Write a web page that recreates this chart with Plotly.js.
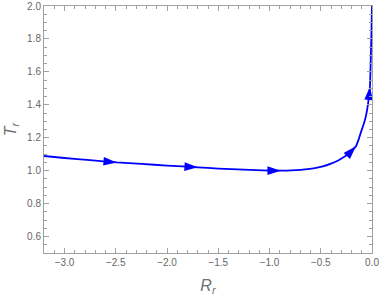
<!DOCTYPE html>
<html>
<head>
<meta charset="utf-8">
<script src="https://cdn.plot.ly/plotly-3.0.1.min.js"></script>
<style>
  html, body { margin: 0; padding: 0; background: #fff; }
  #plot { width: 382px; height: 297px; }
</style>
</head>
<body>
<div id="plot"></div>
<script>
// curve
var rr = [-3.2, -3.0, -2.75, -2.49, -2.25, -2.0, -1.70, -1.5, -1.25, -1.0, -0.89, -0.7, -0.57, -0.48, -0.4, -0.33, -0.27, -0.22, -0.19, -0.157, -0.13, -0.11, -0.08, -0.06, -0.04, -0.028, -0.02, -0.01, -0.005, 0];
var tr = [1.089, 1.077, 1.064, 1.050, 1.041, 1.031, 1.020, 1.013, 1.006, 1.0, 1.0, 1.005, 1.014, 1.026, 1.043, 1.062, 1.084, 1.107, 1.126, 1.148, 1.19, 1.23, 1.285, 1.33, 1.40, 1.46, 1.51, 1.73, 1.85, 2.0];

// arrow tips sit on these curve points
var arrowAt = [-2.49, -1.70, -0.89, -0.157, -0.02];

var sizes = rr.map(function (x) { return arrowAt.indexOf(x) >= 0 ? 14 : 0; });
var alpha = rr.map(function (x) { return arrowAt.indexOf(x) >= 0 ? 1 : 0; });

var grey = '#a0a0a0';
var txt = '#666666';

var arrows = {
    x: rr,
    y: tr,
    type: 'scatter',
    mode: 'markers',
    marker: {
        symbol: 'arrow',
        angleref: 'previous',
        size: sizes,
        opacity: alpha,
        color: '#0000ff',
        line: {width: 0}
    },
    hoverinfo: 'skip'
};

var curve = {
    x: rr,
    y: tr,
    type: 'scatter',
    mode: 'lines',
    line: {color: '#0000ff', width: 1.8, shape: 'spline', smoothing: 0.6},
    hoverinfo: 'skip'
};

var layout = {
    width: 382,
    height: 297,
    margin: {l: 44, r: 10, t: 6, b: 44},
    paper_bgcolor: '#ffffff',
    plot_bgcolor: '#ffffff',
    showlegend: false,
    font: {family: 'Liberation Sans, Arial, sans-serif', size: 10, color: txt},
    xaxis: {
        range: [-3.2, 0],
        dtick: 0.5,
        tickformat: '.1f',
        ticks: 'inside',
        ticklen: 5,
        tickcolor: grey,
        showline: true,
        linecolor: grey,
        linewidth: 1,
        mirror: 'allticks',
        showgrid: false,
        zeroline: false,
        minor: {dtick: 0.1, ticks: 'inside', ticklen: 3, tickcolor: grey},
        title: {text: '<i>R</i><sub><i>r</i></sub>', font: {size: 16, color: '#707070'}, standoff: 12}
    },
    yaxis: {
        range: [0.5, 2.0],
        dtick: 0.2,
        tickformat: '.1f',
        ticks: 'inside',
        ticklen: 5,
        tickcolor: grey,
        showline: true,
        linecolor: grey,
        linewidth: 1,
        mirror: 'allticks',
        showgrid: false,
        zeroline: false,
        minor: {dtick: 0.05, ticks: 'inside', ticklen: 3, tickcolor: grey},
        title: {text: '<i>T</i><sub><i>r</i></sub>', font: {size: 16, color: '#707070'}, standoff: 6}
    }
};

Plotly.newPlot('plot', [arrows, curve], layout, {staticPlot: true, displayModeBar: false});
</script>
</body>
</html>
